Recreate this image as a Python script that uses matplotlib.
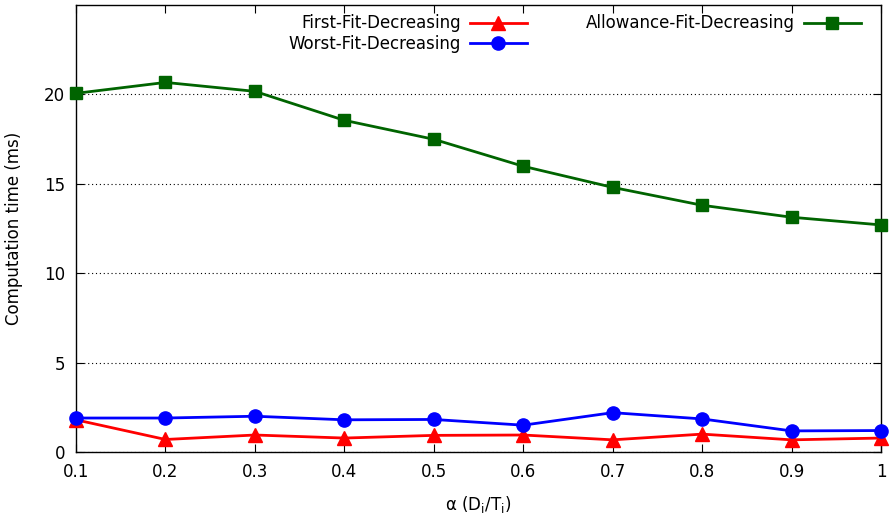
import matplotlib
matplotlib.use("Agg")
import matplotlib.pyplot as plt

alpha = [0.1, 0.2, 0.3, 0.4, 0.5, 0.6, 0.7, 0.8, 0.9, 1.0]
ffd = [1.8, 0.7, 0.95, 0.78, 0.93, 0.95, 0.68, 1.0, 0.68, 0.78]
wfd = [1.9, 1.9, 2.0, 1.8, 1.82, 1.5, 2.2, 1.85, 1.18, 1.2]
afd = [20.06, 20.67, 20.17, 18.55, 17.49, 15.98, 14.8, 13.8, 13.13, 12.7]
xticks = [0.1, 0.2, 0.3, 0.4, 0.5, 0.6, 0.7, 0.8, 0.9, 1.0]
xticklabels = ["0.1", "0.2", "0.3", "0.4", "0.5", "0.6", "0.7", "0.8", "0.9", "1"]
yticks = [0, 5, 10, 15, 20]

plt.rcParams['font.family'] = ['DejaVu Sans']
fs = 12
fig = plt.figure(figsize=(8.94, 5.17), dpi=100)
ax = fig.add_axes([76/894, 1 - 452/517, (881-76)/894, (452-5)/517])

l1, = ax.plot(alpha, ffd, color='#ff0000', lw=2, marker='^', ms=10, clip_on=False, zorder=3)
l2, = ax.plot(alpha, wfd, color='#0000ff', lw=2, marker='o', ms=9.5, clip_on=False, zorder=3)
l3, = ax.plot(alpha, afd, color='#006400', lw=2, marker='s', ms=9, clip_on=False, zorder=3)

ax.set_xlim(0.1, 1.0)
ax.set_ylim(0, 25)
ax.set_xticks(xticks)
ax.set_xticklabels(xticklabels)
ax.set_yticks(yticks)
ax.tick_params(direction='in', length=6, width=0.8, top=True, right=True,
               labelsize=fs, pad=8, colors='black')
ax.yaxis.grid(True, linestyle=(0, (1, 2.5)), color='black', lw=0.8)
ax.set_axisbelow(True)
for s in ax.spines.values():
    s.set_linewidth(1.0)

ax.set_xlabel(r'α (D$_\mathregular{i}$/T$_\mathregular{i}$)', fontsize=fs, labelpad=9)
ax.set_ylabel('Computation time (ms)', fontsize=fs, labelpad=15)

leg1 = ax.legend([l1, l2], ['First-Fit-Decreasing', 'Worst-Fit-Decreasing'],
                 loc='upper right', bbox_to_anchor=(530/894, 1 - 11/517),
                 bbox_transform=fig.transFigure, frameon=False, markerfirst=False,
                 fontsize=fs, handlelength=3.4, handletextpad=0.55, labelspacing=0.15,
                 borderaxespad=0, borderpad=0.2)
ax.add_artist(leg1)
leg2 = ax.legend([l3], ['Allowance-Fit-Decreasing'],
                 loc='upper right', bbox_to_anchor=(864/894, 1 - 11/517),
                 bbox_transform=fig.transFigure, frameon=False, markerfirst=False,
                 fontsize=fs, handlelength=3.4, handletextpad=0.55,
                 borderaxespad=0, borderpad=0.2)

fig.savefig('out.png', dpi=100)
